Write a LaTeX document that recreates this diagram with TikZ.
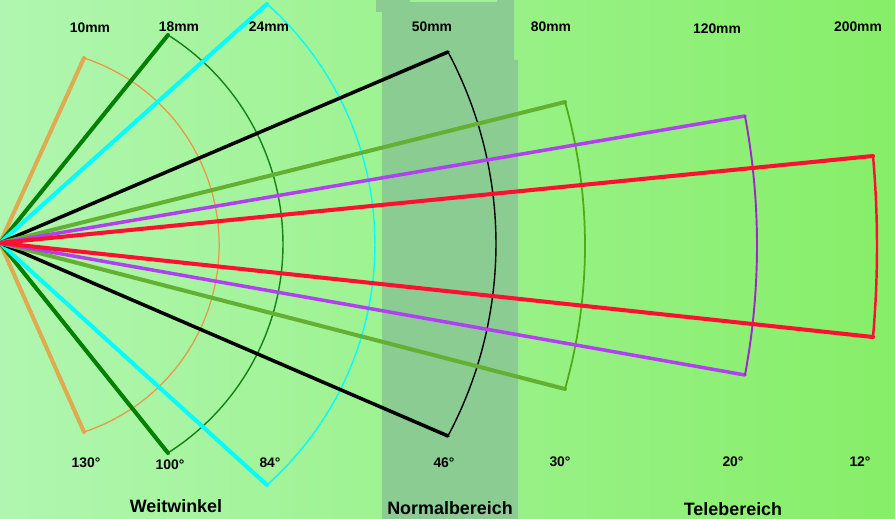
\documentclass[tikz,border=0pt]{standalone}
\usepackage{fontspec}
\setmainfont{Liberation Sans}
\usepackage{tikz}
\usepackage{xcolor}
\definecolor{bgleft}{RGB}{176,246,176}
\definecolor{bgright}{RGB}{134,238,104}
\definecolor{bandgreen}{RGB}{138,204,146}
\definecolor{stripgreen}{RGB}{160,242,150}
\definecolor{c10}{RGB}{224,170,80}
\definecolor{c10rim}{RGB}{236,150,70}
\definecolor{c18}{RGB}{0,128,0}
\definecolor{c18rim}{RGB}{20,130,20}
\definecolor{c24}{RGB}{0,255,255}
\definecolor{c80}{RGB}{100,176,50}
\definecolor{c80rim}{RGB}{80,170,20}
\definecolor{c120}{RGB}{176,64,240}
\definecolor{c120rim}{RGB}{160,40,200}
\definecolor{c200}{RGB}{255,16,48}

\begin{document}
\begin{tikzpicture}[x=0.02cm,y=0.02cm,line cap=round,line join=round,
  ray/.style={line width=2.3pt},
  rim/.style={line width=0.8pt},
  brennweite/.style={anchor=base,font=\fontsize{7.9}{9}\selectfont\bfseries},
  winkel/.style={anchor=base,font=\fontsize{7.9}{9}\selectfont\bfseries},
  bereich/.style={anchor=base,font=\fontsize{10.2}{12}\selectfont\bfseries}]
\useasboundingbox (0,-276) rectangle (895,243);
\shade[left color=bgleft,right color=bgright] (0,-276) rectangle (895,243);
\fill[bandgreen] (376,243) -- (514,243) -- (514,183) -- (518,183) -- (518,-276)
  -- (382,-276) -- (382,231) -- (376,231) -- cycle;
\fill[stripgreen] (410,243) rectangle (497,241);
\coordinate (apex) at (0,0);
% 10mm
\draw[ray,c10] (84,185) -- (apex) -- (84,-189);
\draw[rim,c10rim,line width=0.7pt] (84,185) arc[start angle=71.7,end angle=-71.7,radius=3.94cm];
% 18mm
\draw[ray,c18] (168,208) -- (apex) -- (168,-210);
\draw[rim,c18rim] (168,208) arc[start angle=57.64,end angle=-57.64,radius=4.948cm];
% 24mm
\draw[ray,c24] (267,239) -- (apex) -- (267,-242);
\draw[rim,c24] (267,239) arc[start angle=48.36,end angle=-48.36,radius=6.436cm];
% 50mm
\draw[ray,black,line width=2pt] (448,191) -- (apex) -- (448,-193);
\draw[rim,black] (448,191) arc[start angle=28.07,end angle=-28.07,radius=8.16cm];
% 80mm
\draw[ray,c80] (565,141) -- (apex) -- (565,-146);
\draw[rim,c80rim,line width=1pt] (565,141) arc[start angle=15.87,end angle=-15.87,radius=10.496cm];
% 120mm
\draw[ray,c120,line width=2pt] (745,127) -- (apex) -- (745,-132);
\draw[rim,c120rim,line width=1.1pt] (745,127) arc[start angle=10.59,end angle=-10.59,radius=14.095cm];
% 200mm
\draw[ray,c200] (873,87) -- (apex) -- (873,-94);
\draw[rim,c200,line width=1.4pt] (873,87) arc[start angle=5.06,end angle=-5.06,radius=20.516cm];
% Brennweiten
\node[brennweite] (f10) at (90,210) {10mm};
\node[brennweite] (f18) at (179,211) {18mm};
\node[brennweite] (f24) at (269,211) {24mm};
\node[brennweite] (f50) at (432,211) {50mm};
\node[brennweite] (f80) at (551,211) {80mm};
\node[brennweite] (f120) at (717,209) {120mm};
\node[brennweite] (f200) at (858,211) {200mm};
% Bildwinkel
\node[winkel] (w130) at (86,-225) {130°};
\node[winkel] (w100) at (170,-227) {100°};
\node[winkel] (w84) at (270,-225) {84°};
\node[winkel] (w46) at (444,-225) {46°};
\node[winkel] (w30) at (560,-224) {30°};
\node[winkel] (w20) at (733,-224) {20°};
\node[winkel] (w12) at (860,-224) {12°};
% Bereiche
\node[bereich] (weit) at (176,-270) {Weitwinkel};
\node[bereich] (normal) at (450,-272) {Normalbereich};
\node[bereich] (tele) at (733,-273) {Telebereich};
\end{tikzpicture}
\end{document}
